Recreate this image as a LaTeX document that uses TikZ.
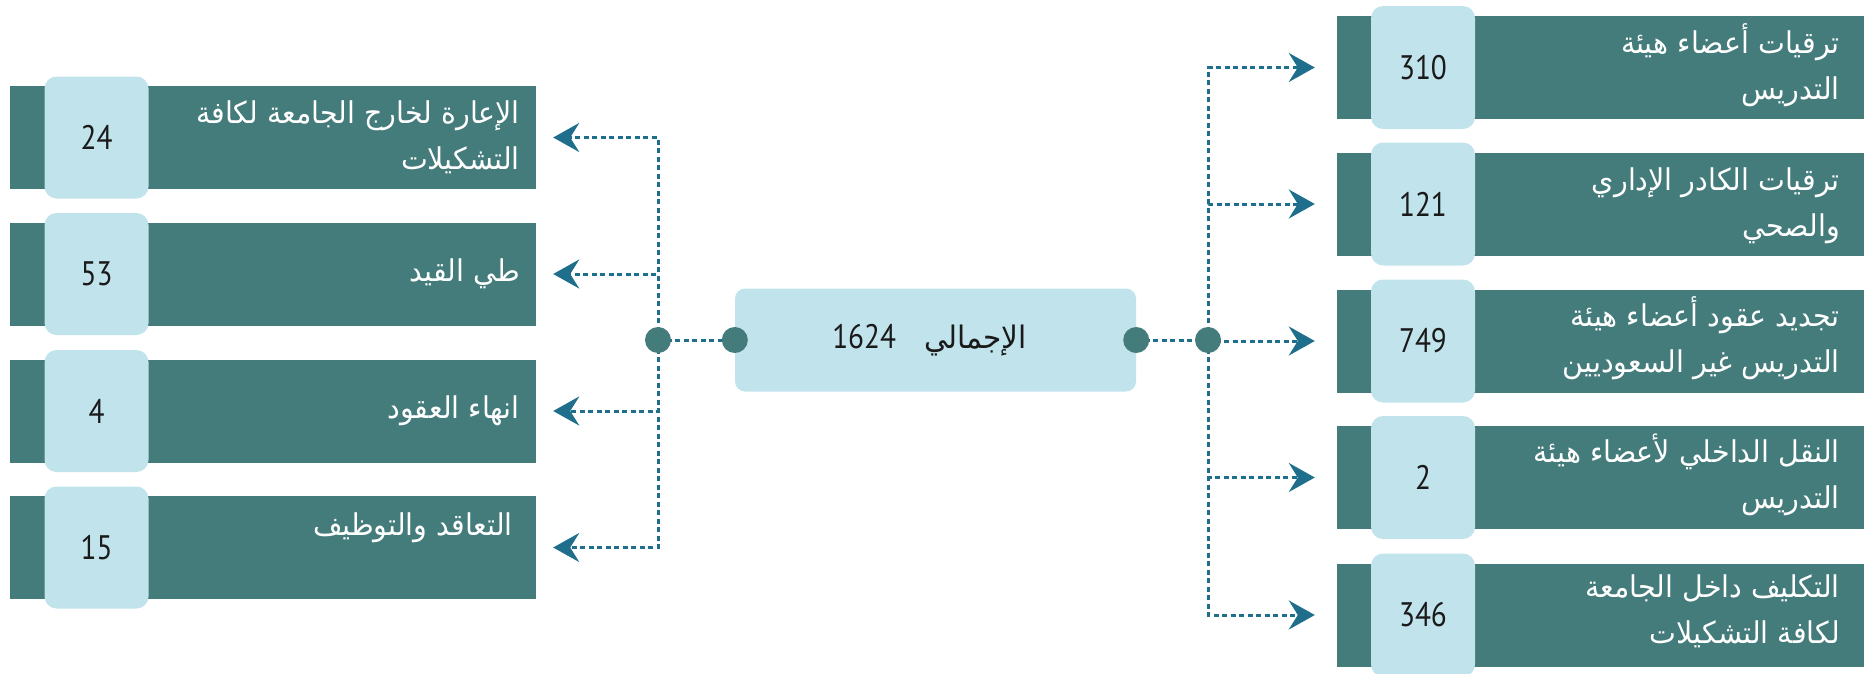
\documentclass[tikz,border=0pt]{standalone}
\usepackage{fontspec}
\setmainfont{PT Sans}
\newfontfamily\arabicfont[Script=Arabic, FakeStretch=0.95]{DejaVu Sans}
\newfontfamily\numfont[FakeStretch=0.86]{PT Sans}
\TeXXeTstate=1
\usetikzlibrary{arrows.meta}
\definecolor{barc}{HTML}{447B7B}
\definecolor{lightc}{HTML}{C1E3EC}
\definecolor{arrc}{HTML}{1F6E8C}
\definecolor{numc}{HTML}{1A1A1A}
\tikzset{
  bar/.style={fill=barc, draw=none, inner sep=0, minimum height=103pt},
  numbox/.style={fill=lightc, draw=none, rounded corners=12pt, inner sep=0,
    minimum width=104pt, minimum height=122pt, text=numc,
    font=\numfont\fontsize{34}{38}\selectfont},
  lbl/.style={text=white, align=right, inner sep=0, anchor=east,
    font=\arabicfont\fontsize{30}{46}\selectfont},
  dotn/.style={circle, fill=barc, minimum size=26pt, inner sep=0},
  conn/.style={draw=arrc, line width=3pt, dash pattern=on 5pt off 3.5pt},
  tip/.style={-{Stealth[length=26pt, width=29pt, inset=9pt]}}
}
\begin{document}
\begin{tikzpicture}[x=1pt, y=-1pt]
\useasboundingbox (0,0) rectangle (1864,673);
% left bars
\node[bar, minimum width=526pt] (L1) at (273,137.5) {};
\node[bar, minimum width=526pt] (L2) at (273,274) {};
\node[bar, minimum width=526pt] (L3) at (273,411) {};
\node[bar, minimum width=526pt] (L4) at (273,547.5) {};
\node[numbox] (L1n) at (96.5,137.5) {24};
\node[numbox] (L2n) at (96.5,274) {53};
\node[numbox] (L3n) at (96.5,411) {4};
\node[numbox] (L4n) at (96.5,547.5) {15};
\node[lbl] (L1t) at (520,137.5) {\beginR الإعارة لخارج الجامعة لكافة\endR\\\beginR التشكيلات\endR};
\node[lbl] (L2t) at (520,274) {\beginR طي القيد\endR};
\node[lbl] (L3t) at (520,411) {\beginR انهاء العقود\endR};
\node[lbl] (L4t) at (513,528) {\beginR التعاقد والتوظيف\endR};
% right bars
\node[bar, minimum width=527pt] (R1) at (1600.5,67.5) {};
\node[bar, minimum width=527pt] (R2) at (1600.5,204) {};
\node[bar, minimum width=527pt] (R3) at (1600.5,341) {};
\node[bar, minimum width=527pt] (R4) at (1600.5,477.5) {};
\node[bar, minimum width=527pt] (R5) at (1600.5,615) {};
\node[numbox, minimum height=123pt] (R1n) at (1423,67.5) {310};
\node[numbox, minimum height=123pt] (R2n) at (1423,204) {121};
\node[numbox, minimum height=123pt] (R3n) at (1423,341) {749};
\node[numbox, minimum height=123pt] (R4n) at (1423,477.5) {2};
\node[numbox, minimum height=123pt] (R5n) at (1423,615) {346};
\node[lbl] (R1t) at (1840,65) {\beginR ترقيات أعضاء هيئة\endR\\\beginR التدريس\endR};
\node[lbl] (R2t) at (1840,206) {\beginR ترقيات الكادر الإداري\endR\\\beginR والصحي\endR};
\node[lbl] (R3t) at (1840,338) {\beginR تجديد عقود أعضاء هيئة\endR\\\beginR التدريس غير السعوديين\endR};
\node[lbl] (R4t) at (1840,475) {\beginR النقل الداخلي لأعضاء هيئة\endR\\\beginR التدريس\endR};
\node[lbl] (R5t) at (1840,611) {\beginR التكليف داخل الجامعة\endR\\\beginR لكافة التشكيلات\endR};
% center
\node[fill=lightc, rounded corners=10pt, minimum width=401pt, minimum height=103pt, inner sep=0] (mid) at (935.5,340) {};
\node[text=numc, inner sep=0] (midt) at ([xshift=-6pt]mid.center) {\numfont\fontsize{34}{38}\selectfont 1624\hspace{28pt}{\arabicfont\fontsize{31}{38}\selectfont\beginR الإجمالي\endR}};
\coordinate (dlc) at (658,340);
\coordinate (drc) at (1208,340);
% connectors
\draw[conn] (dlc) -- (mid.west);
\draw[conn] (mid.east) -- (drc);
\foreach \t in {L1,L2,L3,L4}{
  \draw[conn, tip, shorten >=17pt] (dlc) |- (\t.east);
}
\foreach \t in {R1,R2,R3,R4,R5}{
  \draw[conn, tip, shorten >=22pt] (drc) |- (\t.west);
}
% dots
\node[dotn] (dl) at (dlc) {};
\node[dotn] (dr) at (drc) {};
\node[dotn] (cl) at (mid.west) {};
\node[dotn] (cr) at (mid.east) {};
\end{tikzpicture}
\end{document}
